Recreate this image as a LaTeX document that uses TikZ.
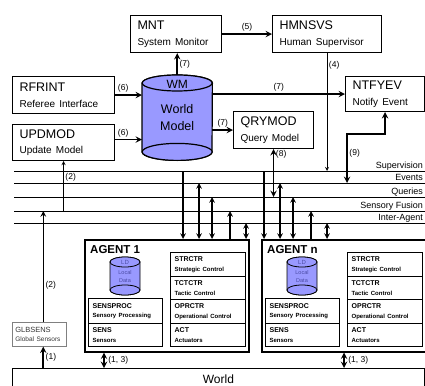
\documentclass[tikz,border=0pt]{standalone}
\usepackage{fontspec}
\setmainfont{Liberation Sans}
\usetikzlibrary{arrows, positioning}
\tikzset{>=stealth}
\definecolor{dbblue}{RGB}{153,153,255}
\definecolor{ldtext}{RGB}{75,75,165}
\definecolor{sensgray}{RGB}{55,55,55}
\tikzset{
  modbox/.style={draw, line width=1.1pt, fill=white, anchor=north west, align=left,
    inner xsep=7pt, inner ysep=0pt, font=\fontsize{12.5}{15.5}\selectfont},
  ctlbox/.style={draw, line width=1.3pt, fill=white, anchor=north west, align=left,
    inner xsep=4pt, inner ysep=0pt, font=\bfseries\fontsize{7}{9.5}\selectfont},
  agentbox/.style={draw, line width=1.5pt, anchor=north west, inner sep=0pt},
  dbline/.style={draw, line width=1.2pt, fill=dbblue},
  flow/.style={line width=1.8pt},
  tap/.style={line width=1.5pt},
  sigline/.style={line width=0.8pt},
  busline/.style={line width=0.8pt},
  buslbl/.style={anchor=base east, inner sep=0pt, font=\fontsize{9}{10}\selectfont},
  num/.style={font=\fontsize{8.5}{9}\selectfont, inner sep=1.5pt},
}
\newcommand{\subline}[1]{{\fontsize{10}{11}\selectfont #1}}
\newcommand{\ctlsub}[1]{{\fontsize{6}{7}\selectfont #1}}

\begin{document}
\begin{tikzpicture}[x=1pt, y=-1pt]
  \useasboundingbox (0,0) rectangle (425,385);

  % modules
  \node[modbox, minimum width=91pt, minimum height=37pt, text width=77pt] (mnt) at (130,15) {MNT\\\subline{System Monitor}};
  \node[modbox, minimum width=109pt, minimum height=37pt, text width=95pt] (hmnsvs) at (272,15) {HMNSVS\\\subline{Human Supervisor}};
  \node[modbox, minimum width=102pt, minimum height=37pt, text width=88pt] (rfrint) at (12,76) {RFRINT\\\subline{Referee Interface}};
  \node[modbox, minimum width=102pt, minimum height=36pt, text width=88pt] (updmod) at (12,124) {UPDMOD\\\subline{Update Model}};
  \node[modbox, minimum width=79pt, minimum height=35pt, text width=65pt] (ntfyev) at (345,76) {NTFYEV\\\subline{Notify Event}};
  \node[modbox, minimum width=80pt, minimum height=37pt, text width=66pt] (qrymod) at (233,111) {QRYMOD\\\subline{Query Model}};

  % world model
  \node[minimum width=70pt, minimum height=85pt, inner sep=0pt, anchor=north west] (wm) at (142,75) {};
  \draw[dbline] ([yshift=-8pt]wm.north west) -- ([yshift=8.5pt]wm.south west)
    arc[start angle=180, end angle=360, x radius=35pt, y radius=8.5pt]
    -- ([yshift=-8pt]wm.north east)
    arc[start angle=0, end angle=180, x radius=35pt, y radius=8pt] -- cycle;
  \draw[dbline] ([yshift=-8pt]wm.north) ellipse[x radius=35pt, y radius=8pt];
  \draw[dbline] ([yshift=8.5pt]wm.south) ellipse[x radius=35pt, y radius=8.5pt];
  \node[font=\fontsize{12}{13}\selectfont] (wmtag) at ([yshift=-9pt]wm.north) {WM};
  \node[font=\fontsize{12.5}{16.5}\selectfont, align=center] (wmname) at (wm.center) {World\\Model};

  % buses
  \coordinate (sup) at (14,171);
  \coordinate (evt) at (14,183);
  \coordinate (qry) at (14,197);
  \coordinate (sen) at (14,211);
  \coordinate (iag) at (14,223);
  \foreach \ln/\txt in {sup/Supervision, evt/Events, qry/Queries, sen/Sensory Fusion, iag/Inter-Agent}{
    \draw[busline] (\ln) -- ++(411,0);
    \node[buslbl] (\ln-lbl) at ([shift={(409,-3)}]\ln) {\txt};
  }

  % flows between modules
  \draw[flow,->] (mnt) -- node[num, above]{(5)} (hmnsvs);
  \draw[flow,->] (rfrint.east) -- node[num, above, pos=0.3]{(6)} (rfrint.east -| wm.west);
  \draw[flow,->] ([yshift=3pt]updmod.east) -- node[num, above, pos=0.3]{(6)} ([yshift=3pt]updmod.east -| wm.west);
  \draw[flow,->] (wm.north) -- node[num, right]{(7)} (wm.north |- mnt.south);
  \draw[flow,->] (wm.east |- ntfyev.west) -- node[num, above]{(7)} (ntfyev.west);
  \draw[flow,->] (wm.east |- qrymod.west) -- node[num, above]{(7)} (qrymod.west);
  \draw[sigline,->] (hmnsvs.south) -- node[num, right, pos=0.1]{(4)} (hmnsvs.south |- sup);
  \draw[flow,<->] (qrymod.south) -- node[num, right, pos=0.1]{(8)} (qrymod.south |- qry);
  \draw[flow,<->] (ntfyev.south) -- ++(0,22) -| node[num, right, pos=0.7]{(9)} ([xshift=-38pt]ntfyev.south |- evt);
  \draw[sigline,<-] (updmod.south) -- node[num, right, pos=0.33]{(2)} (updmod.south |- sen);

  % global sensors and world
  \node[draw=gray, line width=0.6pt, fill=white, anchor=north west, align=left, minimum width=54pt,
    minimum height=24pt, text width=48pt, inner xsep=3pt, inner ysep=0pt, text=sensgray,
    font=\fontsize{7.5}{9}\selectfont] (glbsens) at (12,322) {GLBSENS\\{\fontsize{6.5}{7}\selectfont Global Sensors}};
  \node[draw, line width=0.8pt, anchor=north west, minimum width=412pt, minimum height=22pt,
    font=\fontsize{12}{13}\selectfont] (world) at (12,368) {World};
  \draw[tap,->] ([xshift=4pt]glbsens.north) -- node[num, right, pos=0.33]{(2)} ([xshift=4pt]glbsens.north |- sen);
  \draw[flow,->] ([xshift=4pt]glbsens.south |- world.north) -- node[num, right]{(1)} ([xshift=4pt]glbsens.south);

  % agents
  \foreach \ag/\ax/\nm in {ag1/84/1, agn/261/n}{
    \node[agentbox, minimum width=164pt, minimum height=112pt] (\ag) at (\ax,239) {};
    \node[anchor=west, inner sep=0pt, font=\bfseries\fontsize{11.5}{12}\selectfont] (\ag-title) at (\ax+6,250) {AGENT \nm};
    % local data
    \draw[line width=0.8pt, fill=dbblue] (\ax+26,262) -- (\ax+26,290)
      arc[start angle=180, end angle=360, x radius=15pt, y radius=5pt] -- (\ax+56,262)
      arc[start angle=0, end angle=180, x radius=15pt, y radius=5pt] -- cycle;
    \draw[line width=0.8pt, fill=dbblue] (\ax+41,262) ellipse[x radius=15pt, y radius=5pt];
    \draw[line width=0.8pt, fill=dbblue] (\ax+41,290) ellipse[x radius=15pt, y radius=5pt];
    \node[text=ldtext, inner sep=0pt, font=\fontsize{6}{7}\selectfont] (\ag-ld) at (\ax+41,262) {LD};
    \node[text=ldtext, inner sep=0pt, align=center, font=\fontsize{5.5}{8}\selectfont] (\ag-data) at (\ax+41,277) {Local\\Data};
    % sensing column
    \node[ctlbox, minimum width=74pt, minimum height=25pt, text width=66pt] (\ag-sp) at (\ax+4,298) {SENSPROC\\\ctlsub{Sensory Processing}};
    \node[ctlbox, minimum width=74pt, minimum height=23pt, text width=66pt] (\ag-sn) at (\ax+4,323) {SENS\\\ctlsub{Sensors}};
    % control column
    \node[ctlbox, minimum width=75pt, minimum height=24pt, text width=67pt] (\ag-st) at (\ax+86,252) {STRCTR\\\ctlsub{Strategic Control}};
    \node[ctlbox, minimum width=75pt, minimum height=23pt, text width=67pt] (\ag-tc) at (\ax+86,276) {TCTCTR\\\ctlsub{Tactic Control}};
    \node[ctlbox, minimum width=75pt, minimum height=24pt, text width=67pt] (\ag-op) at (\ax+86,299) {OPRCTR\\\ctlsub{Operational Control}};
    \node[ctlbox, minimum width=75pt, minimum height=23pt, text width=67pt] (\ag-ac) at (\ax+86,323) {ACT\\\ctlsub{Actuators}};
  }

  % bus taps of the agents
  \draw[tap,->] (sup -| 183,0) -- (183,0 |- ag1.north);
  \draw[tap,<->] (evt -| 199,0) -- (199,0 |- ag1.north);
  \draw[tap,<->] (qry -| 212,0) -- (212,0 |- ag1.north);
  \draw[tap,<-] (sen -| 230,0) -- (230,0 |- ag1.north);
  \draw[tap,<->] (iag -| 246,0) -- (246,0 |- ag1.north);
  \draw[tap,->] (sup -| 264,0) -- (264,0 |- agn.north);
  \draw[tap,<->] (evt -| 280,0) -- (280,0 |- agn.north);
  \draw[tap,<->] (qry -| 293,0) -- (293,0 |- agn.north);
  \draw[tap,<-] (sen -| 311,0) -- (311,0 |- agn.north);
  \draw[tap,<->] (iag -| 327,0) -- (327,0 |- agn.north);

  % agents and world
  \draw[flow,<->] (104,0 |- ag1.south) -- node[num, right, xshift=2pt]{(1, 3)} (104,0 |- world.north);
  \draw[flow,<->] (344,0 |- agn.south) -- node[num, right, xshift=2pt]{(1, 3)} (344,0 |- world.north);
\end{tikzpicture}
\end{document}
